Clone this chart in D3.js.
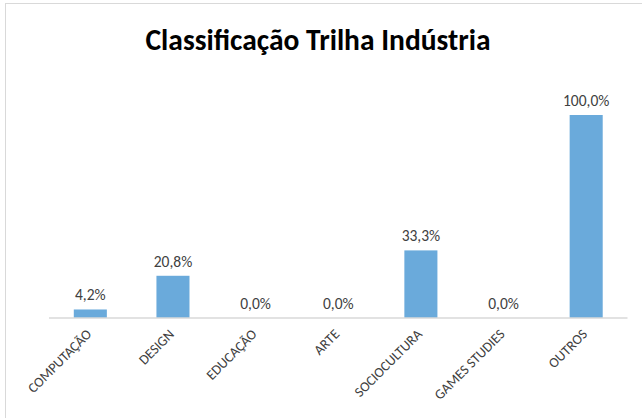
<!DOCTYPE html>
<html><head><meta charset="utf-8">
<script src="https://cdn.jsdelivr.net/npm/d3@7"></script>
<style>body{margin:0;background:#fff;} svg{display:block;}</style>
</head><body>
<script>
const categories = ["COMPUTAÇÃO","DESIGN","EDUCAÇÃO","ARTE","SOCIOCULTURA","GAMES STUDIES","OUTROS"];
const values = [4.2, 20.8, 0, 0, 33.3, 0, 100];
const valueLabels = ["4,2%","20,8%","0,0%","0,0%","33,3%","0,0%","100,0%"];
const title = "Classificação Trilha Indústria";

const W = 642, H = 418;
const font = "Carlito, Calibri, Lato, 'Open Sans', sans-serif";
const svg = d3.select("body").append("svg").attr("width", W).attr("height", H);
svg.append("rect").attr("width", W).attr("height", H).attr("fill", "#fff");
svg.append("rect").attr("x", 5.5).attr("y", 3.5).attr("width", 660).attr("height", 430)
  .attr("fill", "none").attr("stroke", "#d9d9d9").attr("stroke-width", 1);

svg.append("text").attr("x", 318).attr("y", 50).attr("text-anchor", "middle")
  .attr("font-family", font).attr("font-weight", "bold").attr("font-size", 29.5)
  .attr("fill", "#000").text(title);

const x = d3.scaleBand().domain(categories).range([49, 627.5]).paddingInner(0.6).paddingOuter(0.3);
const y = d3.scaleLinear().domain([0, 100]).range([318, 115]);

svg.selectAll("rect.bar").data(categories).enter().append("rect").attr("class", "bar")
  .attr("x", d => x(d)).attr("width", x.bandwidth())
  .attr("y", (d, i) => y(values[i])).attr("height", (d, i) => y(0) - y(values[i]))
  .attr("fill", "#6aaadb");

svg.selectAll("text.val").data(categories).enter().append("text").attr("class", "val")
  .attr("x", d => x(d) + x.bandwidth() / 2).attr("y", (d, i) => y(values[i]) - 9)
  .attr("text-anchor", "middle").attr("font-family", font).attr("font-size", 15.5)
  .attr("fill", "#404040").text((d, i) => valueLabels[i]);

const axis = d3.axisBottom(x).tickSize(0).tickPadding(0);
const g = svg.append("g").attr("transform", "translate(0,318)").call(axis);
g.select(".domain").attr("stroke", "#d9d9d9").attr("stroke-width", 1.3).attr("d", "M49,0H627.5");
g.selectAll(".tick text").attr("font-family", font).attr("font-size", 14).attr("fill", "#404040")
  .attr("text-anchor", "end").attr("dy", null).attr("y", 0)
  .attr("transform", "translate(2,17) rotate(-45)");
</script>
</body></html>
